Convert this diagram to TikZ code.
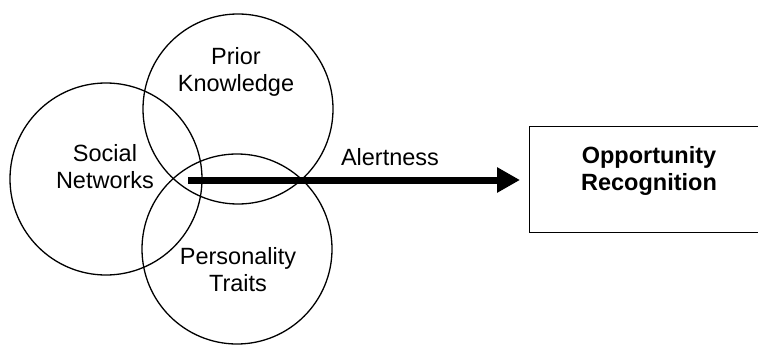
\documentclass[tikz,border=0pt]{standalone}
\usepackage{fontspec}
\setmainfont{Liberation Sans}
\usetikzlibrary{arrows.meta}
\begin{document}
\begin{tikzpicture}[x=1pt,y=-1pt,
  ring/.style={draw,circle,line width=1.3pt,inner sep=0pt},
  lbl/.style={align=center,font=\fontsize{23.5}{27}\selectfont,inner sep=0pt},
  boxlbl/.style={align=center,font=\fontsize{23.5}{27}\selectfont\bfseries,inner sep=0pt}]
\useasboundingbox (0,0) rectangle (758,345);
\clip (0,0) rectangle (758,345);
\node[ring,minimum size=192pt] (social) at (106,179) {};
\node[ring,minimum size=190pt] (prior) at (238,109) {};
\node[ring,minimum size=190pt] (pers) at (237,249) {};
\node[lbl] (tsocial) at (105,167) {Social\\Networks};
\node[lbl] (tprior) at (236,72) {Prior\\Knowledge};
\node[lbl] (tpers) at (238,270) {Personality\\Traits};
\node[draw,line width=1.3pt,minimum width=250pt,minimum height=106pt,anchor=north west,inner sep=0pt] (box) at (529,126) {};
\node[boxlbl] (tbox) at (649,171) {Opportunity\\Recognition};
\coordinate (start) at (188,180);
\draw[line width=7pt,-{Triangle[length=23pt,width=24pt]}] (start) -- ([xshift=-9pt]box.west |- start);
\node[lbl,anchor=base] (alert) at (390,165) {Alertness};
\end{tikzpicture}
\end{document}
